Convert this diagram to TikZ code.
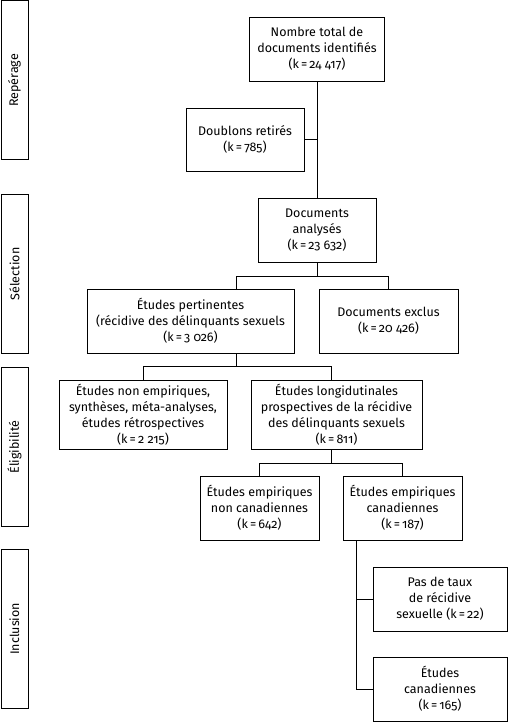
\documentclass[tikz,border=0pt]{standalone}
\usepackage{fontspec}
\setmainfont{Fira Sans}[Numbers=OldStyle]
\usepackage{tikz}
\usepackage{xcolor}

\begin{document}
\begin{tikzpicture}[x=1pt,y=-1pt,
  box/.style = {shape=rectangle, draw, line width=0.9pt, align=center, inner sep=2pt,
    font=\fontsize{12.5}{16}\selectfont},
  phase/.style = {shape=rectangle, draw, line width=0.9pt, minimum width=27pt, anchor=north west},
  link/.style = {line width=0.9pt}]
  \useasboundingbox (0,0) rectangle (508,722);

  % phases on the left
  \node[phase, minimum height=159pt] (rep) at (0.5,0.5) {};
  \node[rotate=90, font=\fontsize{12.5}{16}\selectfont] at (rep.center) {Repérage};
  \node[phase, minimum height=159pt] (sel) at (0.5,194) {};
  \node[rotate=90, font=\fontsize{12.5}{16}\selectfont] at (sel.center) {Sélection};
  \node[phase, minimum height=159pt] (eli) at (0.5,367) {};
  \node[rotate=90, font=\fontsize{12.5}{16}\selectfont] at (eli.center) {Éligibilité};
  \node[phase, minimum height=159pt] (inc) at (0.5,549) {};
  \node[rotate=90, font=\fontsize{12.5}{16}\selectfont] at (inc.center) {Inclusion};

  % boxes
  \node[box, minimum width=135pt, minimum height=64pt] (tot) at (317,49) {Nombre total de\\documents identifiés\\(k\,=\,24 417)};
  \node[box, minimum width=118pt, minimum height=63pt] (doub) at (245,139.5) {Doublons retirés\\(k\,=\,785)};
  \node[box, minimum width=118pt, minimum height=64pt] (anal) at (317,230) {Documents\\analysés\\(k\,=\,23 632)};
  \node[box, minimum width=207pt, minimum height=64pt] (pert) at (190.5,321) {Études pertinentes\\(récidive des délinquants sexuels\\(k\,=\,3 026)};
  \node[box, minimum width=139pt, minimum height=64pt] (excl) at (388.5,321) {Documents exclus\\(k\,=\,20 426)};
  \node[box, minimum width=168pt, minimum height=69pt] (nonemp) at (143,414.5) {Études non empiriques,\\synthèses, méta-analyses,\\études rétrospectives\\(k\,=\,2 215)};
  \node[box, minimum width=171pt, minimum height=69pt] (longi) at (336.5,414.5) {Études longidutinales\\prospectives de la récidive\\des délinquants sexuels\\(k\,=\,811)};
  \node[box, minimum width=119pt, minimum height=64pt] (noncan) at (259.5,508) {Études empiriques\\non canadiennes\\(k\,=\,642)};
  \node[box, minimum width=119pt, minimum height=64pt] (can) at (402.5,508) {Études empiriques\\canadiennes\\(k\,=\,187)};
  \node[box, minimum width=134pt, minimum height=64pt] (pas) at (440,599) {Pas de taux\\de récidive\\sexuelle (k\,=\,22)};
  \node[box, minimum width=134pt, minimum height=64pt] (etcan) at (440,689) {Études\\canadiennes\\(k\,=\,165)};

  % junctions
  \coordinate (j1) at (236,276);
  \coordinate (j2) at (236,366);
  \coordinate (j3) at (331,463);
  \coordinate (j4) at (356,540);

  \draw[link] (tot.south) -- (anal.north);
  \draw[link] (doub.east) -- (doub.east -| tot.south);
  \draw[link] (anal.south) |- (j1) -- (j1 |- pert.north);
  \draw[link] (anal.south) |- (excl.north |- j1) -- (excl.north);
  \draw[link] (j1 |- pert.south) -- (j2) -| (nonemp.north);
  \draw[link] (j2) -| (j3 |- longi.north);
  \draw[link] (j3 |- longi.south) -- (j3) -| (noncan.north);
  \draw[link] (j3) -| (can.north);
  \draw[link] (j4) |- (etcan.west);
  \draw[link] (j4 |- pas.west) -- (pas.west);
\end{tikzpicture}
\end{document}
